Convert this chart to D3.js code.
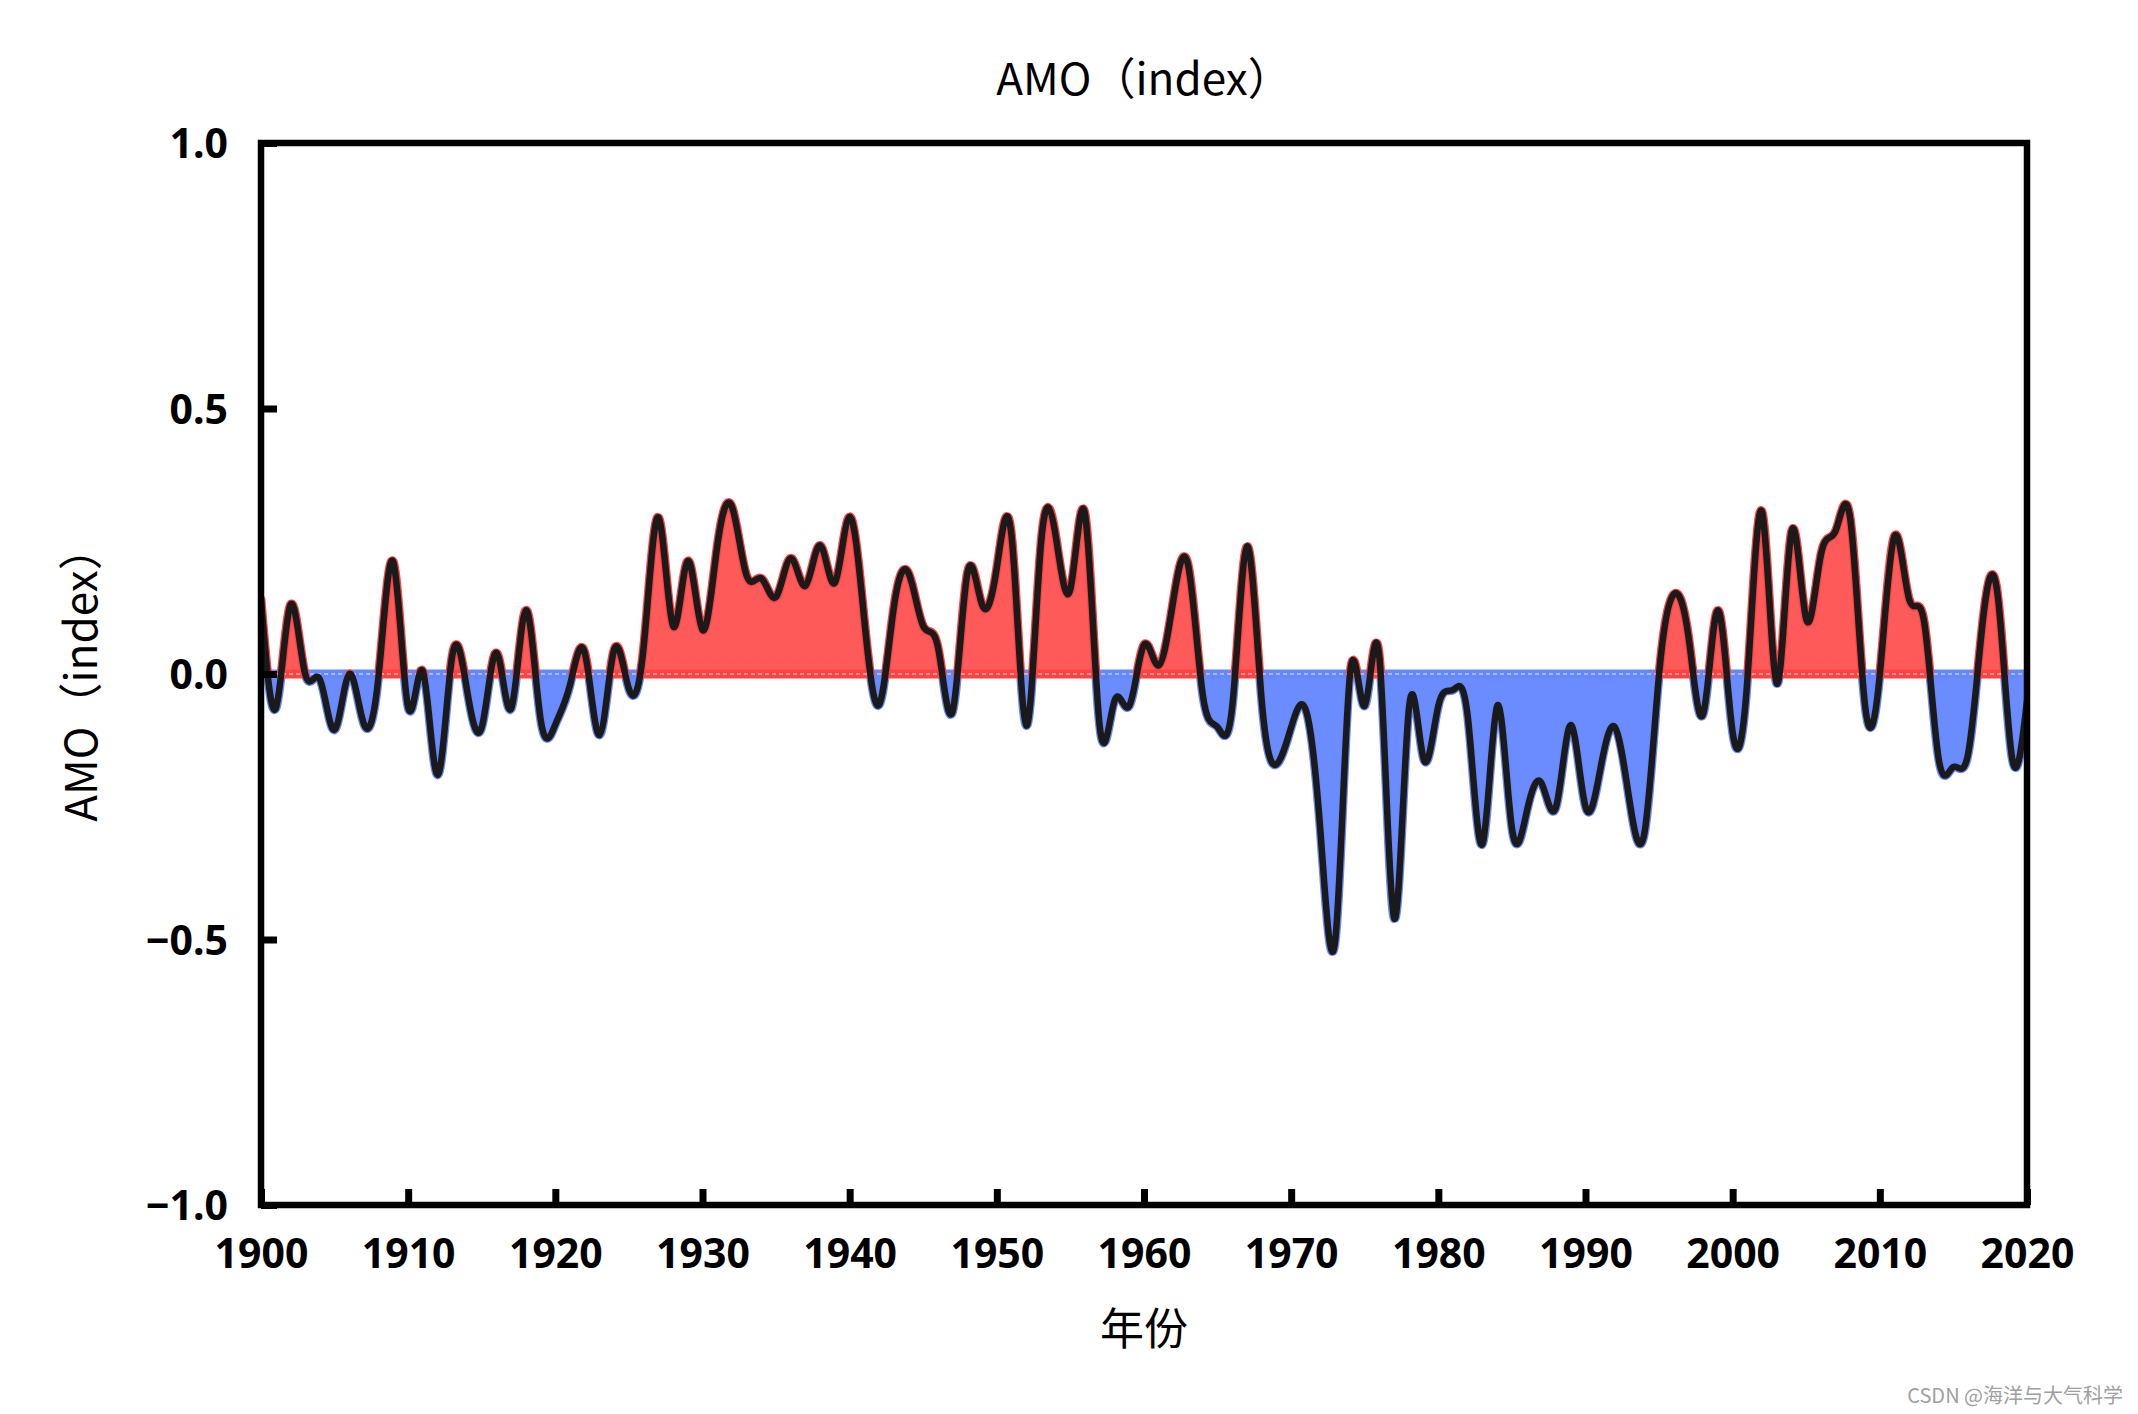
<!DOCTYPE html>
<html><head><meta charset="utf-8">
<script src="https://cdn.jsdelivr.net/npm/d3@7"></script>
<style>html,body{margin:0;padding:0;background:#fff;} svg{display:block;}</style>
</head><body>
<svg id="chart" width="2138" height="1414"></svg>
<script>
// ---------- data ----------
const chartTitle = "AMO（index）";
const yLabel = "AMO（index）";
const xLabel = "年份";
const watermark = "CSDN @海洋与大气科学";
const startYear = 1900;
const amo = [
  0.14, -0.065, 0.13, 0.0, -0.01, -0.105, 0.0, -0.095, 0.0, 0.21,      // 1900-1909
  -0.063, 0.005, -0.19, 0.035, -0.03, -0.10, 0.04, -0.065, 0.12, -0.085, // 1910-1919
  -0.095, -0.02, 0.04, -0.115, 0.046, -0.028, 0.05, 0.295, 0.09, 0.213, // 1920-1929
  0.083, 0.24, 0.315, 0.185, 0.18, 0.145, 0.218, 0.166, 0.242, 0.172,  // 1930-1939
  0.296, 0.10, -0.058, 0.125, 0.19, 0.09, 0.05, -0.07, 0.19, 0.13,     // 1940-1949
  0.20, 0.26, -0.097, 0.245, 0.26, 0.16, 0.30, -0.10, -0.05, -0.06,    // 1950-1959
  0.055, 0.016, 0.14, 0.205, -0.04, -0.10, -0.06, 0.24, -0.05, -0.17,  // 1960-1969
  -0.10, -0.068, -0.30, -0.50, 0.0, -0.06, 0.03, -0.46, -0.065, -0.16, // 1970-1979
  -0.06, -0.03, -0.08, -0.32, -0.06, -0.29, -0.26, -0.205, -0.25, -0.096, // 1980-1989
  -0.25, -0.18, -0.10, -0.24, -0.30, 0.0, 0.15, 0.07, -0.075, 0.12,    // 1990-1999
  -0.11, -0.01, 0.305, -0.018, 0.268, 0.103, 0.225, 0.27, 0.29, -0.06, // 2000-2009
  0.0, 0.26, 0.14, 0.10, -0.16, -0.175, -0.15, 0.10, 0.15, -0.16,      // 2010-2019
  -0.05                                                               // 2020
];
const xTicks = [1900, 1910, 1920, 1930, 1940, 1950, 1960, 1970, 1980, 1990, 2000, 2010, 2020];
const yTicks = [-1.0, -0.5, 0.0, 0.5, 1.0];

// ---------- layout ----------
const L = 261, R = 2027, T = 143, B = 1205;
const svg = d3.select("#chart");
const x = d3.scaleLinear().domain([1900, 2020]).range([L, R]);
const y = d3.scaleLinear().domain([-1, 1]).range([B, T]);
const years = amo.map((d, i) => startYear + i);

svg.append("defs").append("clipPath").attr("id", "plotClip")
  .append("rect").attr("x", L).attr("y", T).attr("width", R - L).attr("height", B - T);

const gFill = svg.append("g").attr("clip-path", "url(#plotClip)");
const gZero = svg.append("g").attr("clip-path", "url(#plotClip)");
const gLine = svg.append("g").attr("clip-path", "url(#plotClip)");

const line = d3.line().x((d, i) => x(years[i])).y(d => y(d)).curve(d3.curveNatural);
const linePath = gLine.append("path")
  .datum(amo)
  .attr("d", line)
  .attr("fill", "none")
  .attr("stroke", "#1a1a1a")
  .attr("stroke-width", 6.5)
  .attr("stroke-linejoin", "round")
  .attr("stroke-linecap", "round");

// sample the drawn smooth curve so the positive / negative fills follow it exactly
const node = linePath.node();
const total = node.getTotalLength();
const raw = [];
for (let s = 0; s <= total; s += 1.5) {
  const p = node.getPointAtLength(s);
  raw.push({x: p.x, v: y.invert(p.y)});
}
const pEnd = node.getPointAtLength(total);
raw.push({x: pEnd.x, v: y.invert(pEnd.y)});
const pts = [];
for (let i = 0; i < raw.length; i++) {
  const a = raw[i];
  if (i > 0) {
    const b = raw[i - 1];
    if (a.v * b.v < 0) {
      const t = b.v / (b.v - a.v);
      pts.push({x: b.x + t * (a.x - b.x), v: 0});
    }
  }
  pts.push(a);
}

const areaNeg = d3.area().defined(d => d.v <= 0)
  .x(d => d.x).y0(y(0)).y1(d => y(d.v));
const areaPos = d3.area().defined(d => d.v >= 0)
  .x(d => d.x).y0(y(0)).y1(d => y(d.v));

gFill.append("path").datum(pts).attr("d", areaNeg)
  .attr("fill", "#6a8cff").attr("stroke", "#6688ff")
  .attr("stroke-width", 9).attr("stroke-linejoin", "round");
gFill.append("path").datum(pts).attr("d", areaPos)
  .attr("fill", "#ff5a5a").attr("stroke", "#ff4242")
  .attr("stroke-width", 9).attr("stroke-linejoin", "round");

gZero.append("line")
  .attr("x1", L).attr("x2", R).attr("y1", y(0)).attr("y2", y(0))
  .attr("stroke", "#ffffff").attr("stroke-width", 1)
  .attr("stroke-dasharray", "4,3").attr("opacity", 0.85);

// ---------- axes ----------
const tickFont = "'Noto Sans', 'DejaVu Sans', sans-serif";
const xAxis = d3.axisBottom(x).tickValues(xTicks).tickSize(-16).tickFormat(d3.format("d"));
const gx = svg.append("g").attr("transform", `translate(0,${B})`).call(xAxis);
gx.select(".domain").remove();
gx.selectAll(".tick line").attr("stroke", "#000").attr("stroke-width", 7);
gx.selectAll(".tick text")
  .attr("y", 34).attr("dy", "0.71em")
  .attr("fill", "#000")
  .style("font-family", tickFont).style("font-weight", "bold").style("font-size", "41px");

const yAxis = d3.axisLeft(y).tickValues(yTicks).tickSize(-16).tickFormat(d3.format(".1f"));
const gy = svg.append("g").attr("transform", `translate(${L},0)`).call(yAxis);
gy.select(".domain").remove();
gy.selectAll(".tick line").attr("stroke", "#000").attr("stroke-width", 7);
gy.selectAll(".tick text")
  .attr("x", -33).attr("dy", "0.36em")
  .attr("fill", "#000")
  .style("font-family", tickFont).style("font-weight", "bold").style("font-size", "41px");

// frame
svg.append("rect").attr("x", L).attr("y", T).attr("width", R - L).attr("height", B - T)
  .attr("fill", "none").attr("stroke", "#000").attr("stroke-width", 6.5);

// ---------- labels ----------
const cjkFont = "'Noto Sans CJK SC', 'Noto Sans', sans-serif";
svg.append("text").attr("x", (L + R) / 2).attr("y", 95)
  .attr("text-anchor", "middle").attr("fill", "#000")
  .style("font-family", cjkFont).style("font-size", "44px")
  .text(chartTitle);

svg.append("text")
  .attr("transform", `translate(97,${(T + B) / 2}) rotate(-90)`)
  .attr("text-anchor", "middle").attr("fill", "#000")
  .style("font-family", cjkFont).style("font-size", "44px")
  .text(yLabel);

svg.append("text").attr("x", (L + R) / 2).attr("y", 1345)
  .attr("text-anchor", "middle").attr("fill", "#000")
  .style("font-family", cjkFont).style("font-size", "44px")
  .text(xLabel);

svg.append("text").attr("x", 2123).attr("y", 1403)
  .attr("text-anchor", "end").attr("fill", "#a0a0a0")
  .style("font-family", cjkFont).style("font-size", "20px")
  .text(watermark);
</script>
</body></html>
